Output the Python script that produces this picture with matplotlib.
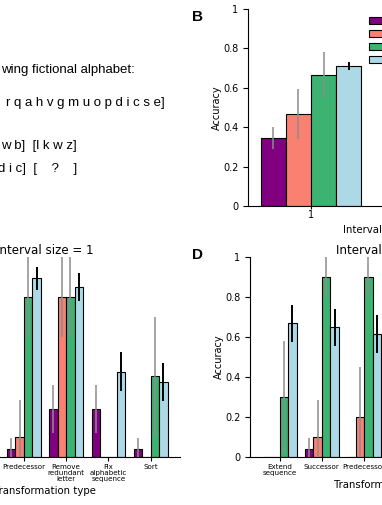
import numpy as np
import matplotlib
matplotlib.use("Agg")
import matplotlib.pyplot as plt

# ---------------- data ----------------
models = ["GPT-3", "GPT-3.5", "GPT-4", "Humans"]
colors = ["#800080", "#FA8072", "#3CB371", "#ADD8E6"]
err_colors = ["#8c8c8c", "#8c8c8c", "#8c8c8c", "black"]

# Panel B: accuracy by interval size (only interval size 1 visible)
interval_sizes = [1]
b_vals = {"GPT-3": [0.345], "GPT-3.5": [0.465], "GPT-4": [0.665], "Humans": [0.71]}
b_errs = {"GPT-3": [0.055], "GPT-3.5": [0.127], "GPT-4": [0.118], "Humans": [0.022]}

# Panel C: interval size = 1 (visible categories)
c_categories = ["Successor", "Predecessor", "Remove\nredundant\nletter",
                "Fix\nalphabetic\nsequence", "Sort"]
c_first_index = 1  # position of first category (Extend sequence at 0 is off-canvas)
c_bar_cats = [1, 2, 3, 4]  # indices into c_categories that have visible bars
c_vals = {"GPT-3":   [0.04, 0.24, 0.24, 0.04],
          "GPT-3.5": [0.10, 0.80, 0.00, 0.00],
          "GPT-4":   [0.80, 0.80, 0.00, 0.405],
          "Humans":  [0.895, 0.853, 0.426, 0.376]}
c_errs = {"GPT-3":   [0.055, 0.12, 0.12, 0.055],
          "GPT-3.5": [0.185, 0.20, 0.00, 0.00],
          "GPT-4":   [0.20, 0.20, 0.00, 0.295],
          "Humans":  [0.058, 0.07, 0.097, 0.095]}

# Panel D: interval size = 2 (visible categories)
d_categories = ["Extend\nsequence", "Successor", "Predecessor"]
d_vals = {"GPT-3":   [0.00, 0.04, 0.00],
          "GPT-3.5": [0.00, 0.10, 0.20],
          "GPT-4":   [0.30, 0.90, 0.90],
          "Humans":  [0.67, 0.65, 0.615]}
d_errs = {"GPT-3":   [0.00, 0.055, 0.00],
          "GPT-3.5": [0.00, 0.185, 0.25],
          "GPT-4":   [0.28, 0.10, 0.10],
          "Humans":  [0.093, 0.093, 0.095]}

ytick_vals = [0, 0.2, 0.4, 0.6, 0.8, 1.0]
ytick_labels = ["0", "0.2", "0.4", "0.6", "0.8", "1"]

W, H = 382, 505
fig = plt.figure(figsize=(W / 100, H / 100), dpi=100)

def px_axes(left, top, right, bottom):
    return fig.add_axes([left / W, 1 - bottom / H, (right - left) / W, (bottom - top) / H])

bw = 0.2
offsets = np.array([-1.5, -0.5, 0.5, 1.5]) * bw

def style(ax, show_y=True):
    ax.spines["top"].set_visible(False)
    ax.spines["right"].set_visible(False)
    ax.set_ylim(0, 1)
    ax.set_yticks(ytick_vals)
    if show_y:
        ax.set_yticklabels(ytick_labels)
        ax.set_ylabel("Accuracy", fontsize=7, labelpad=1)
    else:
        ax.tick_params(axis="y", labelleft=False)
    ax.tick_params(axis="y", labelsize=7, length=3.5, width=0.8)

def draw(ax, positions, vals, errs):
    handles = []
    for i, m in enumerate(models):
        h = ax.bar(positions + offsets[i], vals[m], width=bw, color=colors[i],
                   edgecolor="black", linewidth=0.8, label=m, zorder=2)
        handles.append(h)
        ax.errorbar(positions + offsets[i], vals[m], yerr=errs[m], fmt="none",
                    ecolor=err_colors[i], elinewidth=1.1 if i < 3 else 1.4,
                    capsize=0, zorder=3)
    return handles

# ---------------- Panel A text ----------------
tfont = dict(family=["Liberation Sans", "DejaVu Sans"], fontsize=9.5)
fig.text(135 / W, 1 - 72.5 / H, "wing fictional alphabet:", ha="right", va="baseline", **tfont)
fig.text(165 / W, 1 - 106 / H, "r q a h v g m u o p d i c s e]", ha="right", va="baseline", **tfont)
fig.text(77 / W, 1 - 148.5 / H, "w b]  [l k w z]", ha="right", va="baseline", **tfont)
fig.text(77 / W, 1 - 172 / H, "d i c]  [    ?    ]", ha="right", va="baseline", **tfont)

# ---------------- Panel B ----------------
axB = px_axes(248, 9, 500, 206)
style(axB)
posB = np.array(interval_sizes, dtype=float)
hB = draw(axB, posB, b_vals, b_errs)
axB.set_xlim(0.5, 2.5)
axB.set_xticks(posB)
axB.set_xticklabels([str(s) for s in interval_sizes], fontsize=7)
axB.tick_params(axis="x", length=2.2, width=0.8, pad=1)
axB.set_xlabel("Interval size", fontsize=7.3, labelpad=3)
axB.legend(hB, [""] * len(models), loc="upper left", bbox_to_anchor=(369 / W, 1 - 16 / H),
           bbox_transform=fig.transFigure, frameon=False, fontsize=7,
           borderpad=0, borderaxespad=0, labelspacing=0.3,
           handlelength=2.0, handleheight=0.7, handletextpad=0.5)

# ---------------- Panel C ----------------
axC = px_axes(-90.3, 257.3, 180.3, 456.7)
style(axC, show_y=False)
posC_ticks = np.arange(len(c_categories)) + c_first_index
posC = np.array(c_bar_cats, dtype=float) + c_first_index
draw(axC, posC, c_vals, c_errs)
axC.set_xlim(-0.7, 5.7)
axC.set_xticks(posC_ticks)
axC.set_xticklabels(c_categories, fontsize=5.1, linespacing=1.05)
axC.tick_params(axis="x", length=3, width=0.8, pad=2)
axC.set_title("Interval size = 1", fontsize=8.6, pad=2.5)
axC.set_xlabel("Transformation type", fontsize=7.3, labelpad=3)

# ---------------- Panel D ----------------
axD = px_axes(250, 257.3, 520.6, 456.7)
style(axD)
posD = np.arange(len(d_categories), dtype=float)
draw(axD, posD, d_vals, d_errs)
axD.set_xlim(-0.7, 5.7)
axD.set_xticks(posD)
axD.set_xticklabels(d_categories, fontsize=5.1, linespacing=1.05)
axD.tick_params(axis="x", length=3, width=0.8, pad=2)
axD.set_title("Interval size = 2", fontsize=8.6, pad=2.5)
axD.set_xlabel("Transformation type", fontsize=7.3, labelpad=3)

# ---------------- panel letters ----------------
lfont = dict(family=["Liberation Sans", "DejaVu Sans"], fontsize=11, fontweight="bold")
fig.text(191.5 / W, 1 - 20.7 / H, "B", ha="left", va="baseline", **lfont)
fig.text(191.5 / W, 1 - 259 / H, "D", ha="left", va="baseline", **lfont)

fig.savefig("out.png", dpi=100)
